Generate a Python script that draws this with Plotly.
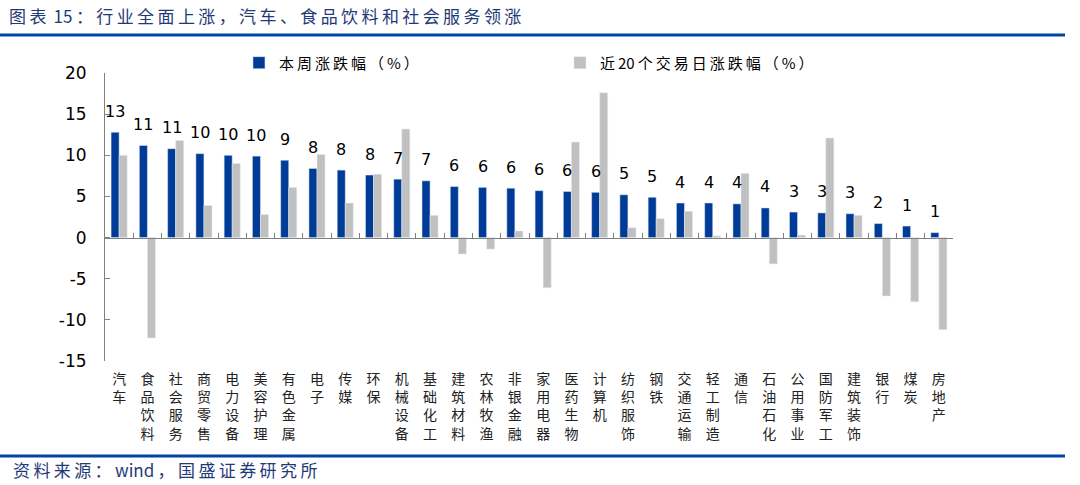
import plotly.graph_objects as go
import numpy as np

categories = ["汽车", "食品饮料", "社会服务", "商贸零售", "电力设备", "美容护理", "有色金属", "电子", "传媒", "环保",
              "机械设备", "基础化工", "建筑材料", "农林牧渔", "非银金融", "家用电器", "医药生物", "计算机", "纺织服饰", "钢铁",
              "交通运输", "轻工制造", "通信", "石油石化", "公用事业", "国防军工", "建筑装饰", "银行", "煤炭", "房地产"]
weekly = [12.8, 11.2, 10.8, 10.2, 10.0, 9.9, 9.4, 8.4, 8.2, 7.6,
          7.1, 6.9, 6.2, 6.1, 6.0, 5.7, 5.6, 5.5, 5.2, 4.9,
          4.2, 4.2, 4.1, 3.6, 3.1, 3.0, 2.9, 1.7, 1.4, 0.6]
last20 = [10.0, -12.2, 11.8, 3.9, 9.0, 2.8, 6.1, 10.1, 4.2, 7.7,
          13.2, 2.7, -2.0, -1.4, 0.8, -6.1, 11.6, 17.6, 1.2, 2.3,
          3.2, 0.2, 7.8, -3.2, 0.3, 12.1, 2.7, -7.1, -7.8, -11.2]
series_names = ["本周涨跌幅（%）", "近20个交易日涨跌幅（%）"]
y_ticks = [20, 15, 10, 5, 0, -5, -10, -15]

title_text = "图表 15：行业全面上涨，汽车、食品饮料和社会服务领涨"
source_text = "资料来源：wind，国盛证券研究所"

BLUE = "#003C97"
GREY = "#C0C0C0"
DARK = "#1F3A78"
CJK = "Noto Sans CJK SC"
NUM = "DejaVu Sans"
SP = "\u2009"


def spaced(s):
    out = ""
    for i, ch in enumerate(s):
        out += ch
        if i < len(s) - 1:
            nxt = s[i + 1]
            if not (ch.isascii() and nxt.isascii()):
                out += SP
    return out


ymin, ymax = -15, 20
tick_text = ["<br>".join(list(c)) for c in categories]

fig = go.Figure()
fig.add_trace(go.Bar(x=categories, y=weekly, name=spaced(series_names[0]), marker_color=BLUE))
fig.add_trace(go.Bar(x=categories, y=last20, name=spaced(series_names[1]), marker_color=GREY))

# data labels above blue bars
for c, v in zip(categories, weekly):
    fig.add_annotation(x=c, y=v, xref="x", yref="y", text=f"{v:.0f}", showarrow=False,
                       xshift=-4, yshift=21, yanchor="middle",
                       font=dict(family=NUM, size=16, color="#000000"))

zero_pos = (0 - ymin) / (ymax - ymin)

fig.update_layout(
    width=1080, height=485,
    margin=dict(l=105, r=127, t=73, b=124, autoexpand=False),
    paper_bgcolor="white", plot_bgcolor="white",
    barmode="group", bargap=0.43, bargroupgap=0,
    showlegend=True,
    legend=dict(orientation="h", x=0.158, xanchor="left", y=1.035, yanchor="middle",
                font=dict(family=CJK, size=15, color="#000000"),
                entrywidth=276, entrywidthmode="pixels", itemwidth=30,
                bgcolor="rgba(0,0,0,0)"),
    xaxis=dict(type="category", categoryorder="array", categoryarray=categories,
               tickmode="array", tickvals=categories, ticktext=tick_text,
               showline=False, ticks="", showgrid=False, zeroline=False,
               range=[-0.5, len(categories) - 0.5],
               tickfont=dict(family=CJK, size=14, color="#222222"),
               ticklabelstandoff=8),
    xaxis2=dict(overlaying="x", anchor="free", position=zero_pos, side="bottom",
                range=[-0.5, len(categories) - 0.5], tickmode="linear", tick0=-0.5, dtick=1,
                ticks="inside", ticklen=5, tickcolor="#808080", showticklabels=False,
                showline=True, linecolor="#808080", linewidth=1, showgrid=False, zeroline=False),
    yaxis=dict(range=[ymin, ymax], tickmode="array", tickvals=y_ticks,
               ticktext=[str(t) for t in y_ticks],
               showline=True, linecolor="#808080", linewidth=1,
               ticks="inside", ticklen=5, tickcolor="#808080",
               showgrid=False, zeroline=False,
               tickfont=dict(family=NUM, size=17, color="#000000"),
               ticklabelstandoff=14),
)

# invisible trace to activate xaxis2
fig.add_trace(go.Scatter(x=[-0.5, len(categories) - 0.5], y=[0, 0], xaxis="x2", yaxis="y",
                         mode="lines", line=dict(width=0), hoverinfo="skip", showlegend=False))

# pixel -> paper conversion
pw, ph = 1080 - 105 - 127, 485 - 73 - 124


def px_x(p):
    return (p - 105) / pw


def px_y(p):
    return (485 - 124 - p) / ph


fig.add_annotation(x=px_x(7), y=px_y(15), xref="paper", yref="paper", text=spaced(title_text),
                   showarrow=False, xanchor="left", yanchor="middle",
                   font=dict(family=CJK, size=17, color=DARK))
fig.add_annotation(x=px_x(11), y=px_y(469), xref="paper", yref="paper", text=spaced(source_text),
                   showarrow=False, xanchor="left", yanchor="middle",
                   font=dict(family=CJK, size=17, color=DARK))

fig.add_shape(type="line", xref="paper", yref="paper", x0=px_x(0), x1=px_x(1065),
              y0=px_y(35), y1=px_y(35), line=dict(color="#0046A0", width=3))
fig.add_shape(type="line", xref="paper", yref="paper", x0=px_x(0), x1=px_x(1065),
              y0=px_y(456), y1=px_y(456), line=dict(color="#0046A0", width=3))

fig.write_html("out.html", config={"displayModeBar": False},
               post_script="document.body.style.margin='0';")
